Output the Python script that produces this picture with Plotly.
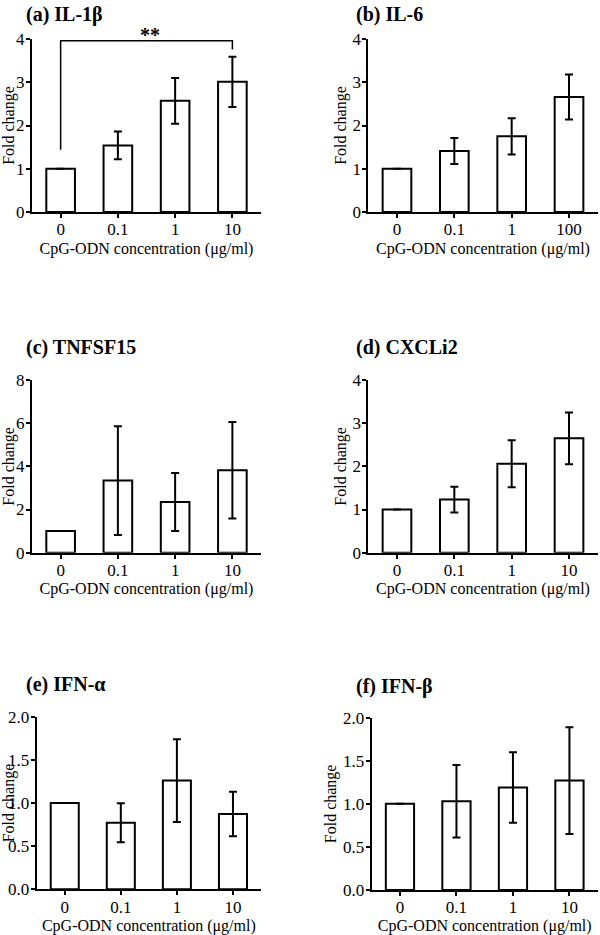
import plotly.graph_objects as go

categories = ["0", "0.1", "1", "10"]
categories_b = ["0", "0.1", "1", "100"]

il1b_vals = [1.0, 1.54, 2.57, 3.01]
il1b_errs = [0, 0.32, 0.53, 0.58]
il6_vals = [1.0, 1.41, 1.75, 2.66]
il6_errs = [0, 0.30, 0.42, 0.52]
tnfsf15_vals = [1.0, 3.34, 2.35, 3.82]
tnfsf15_errs = [0, 2.52, 1.34, 2.24]
cxcli2_vals = [1.0, 1.23, 2.06, 2.65]
cxcli2_errs = [0, 0.30, 0.545, 0.60]
ifna_vals = [1.0, 0.772, 1.26, 0.873]
ifna_errs = [0, 0.226, 0.48, 0.257]
ifnb_vals = [1.0, 1.03, 1.19, 1.27]
ifnb_errs = [0, 0.42, 0.41, 0.62]

titles = ["(a) IL-1β", "(b) IL-6", "(c) TNFSF15", "(d) CXCLi2", "(e) IFN-α", "(f) IFN-β"]
y_max = [4, 4, 8, 4, 2, 2]
y_dtick = [1, 1, 2, 1, 0.5, 0.5]

# significance bracket in panel (a): from category index to index, level, left/right drop ends
sig_from, sig_to = 0, 3
sig_level = 3.96
sig_left_end, sig_right_end = 1.44, 3.76
sig_label = "**"

panels = [
    (categories, il1b_vals, il1b_errs),
    (categories_b, il6_vals, il6_errs),
    (categories, tnfsf15_vals, tnfsf15_errs),
    (categories, cxcli2_vals, cxcli2_errs),
    (categories, ifna_vals, ifna_errs),
    (categories, ifnb_vals, ifnb_errs),
]

W, H = 600, 935
x_doms = [(32, 261), (368.3, 597.7), (32, 261), (368.3, 597.7), (36.7, 261), (371.7, 597.7)]
y_doms = [(39, 212), (39, 212), (380, 552.7), (380, 552.7), (716.7, 889.3), (717.7, 890)]
title_pos = [(24, 14), (354, 14), (24, 347), (354, 347), (24, 684), (354, 686)]

FONT = "Liberation Serif"

fig = go.Figure()
layout = dict(
    width=W, height=H, margin=dict(l=0, r=0, t=0, b=0),
    paper_bgcolor="white", plot_bgcolor="white", showlegend=False,
    font=dict(family=FONT, color="black", size=16),
    shapes=[], annotations=[],
)

for i, (cats, vals, errs) in enumerate(panels):
    n = "" if i == 0 else str(i + 1)
    fig.add_trace(go.Bar(
        x=cats, y=vals, width=0.5,
        marker=dict(color="white", line=dict(color="black", width=2)),
        error_y=dict(type="data", array=errs, color="black", thickness=2, width=4),
        xaxis="x" + n, yaxis="y" + n,
    ))
    x0, x1 = x_doms[i]
    y0, y1 = y_doms[i]
    layout["xaxis" + n] = dict(
        domain=[x0 / W, x1 / W], anchor="y" + n, type="category", automargin=False,
        range=[-0.5, 3.5], showline=True, linecolor="black", linewidth=2,
        ticks="outside", ticklen=4, tickwidth=2, tickcolor="black",
        showgrid=False, zeroline=False, tickfont=dict(size=17), ticklabelstandoff=-3,
        title=dict(text="CpG-ODN concentration (μg/ml)", font=dict(size=16), standoff=4),
    )
    layout["yaxis" + n] = dict(
        domain=[1 - y1 / H, 1 - y0 / H], anchor="x" + n, automargin=False,
        range=[0, y_max[i]], dtick=y_dtick[i], tick0=0,
        tickformat=".1f" if y_dtick[i] < 1 else "d",
        showline=True, linecolor="black", linewidth=2,
        ticks="outside", ticklen=4, tickwidth=2, tickcolor="black",
        showgrid=False, zeroline=False, tickfont=dict(size=17), ticklabelstandoff=-2,
        title=dict(text="Fold change", font=dict(size=16), standoff=2),
    )
    tx, ty = title_pos[i]
    layout["annotations"].append(dict(
        text="<b>" + titles[i] + "</b>", x=tx / W, y=1 - ty / H,
        xref="paper", yref="paper", xanchor="left", yanchor="middle",
        showarrow=False, font=dict(size=20, family=FONT),
    ))

# significance bracket
layout["shapes"].append(dict(
    type="path", xref="x", yref="y",
    path=f"M {sig_from},{sig_left_end} L {sig_from},{sig_level} L {sig_to},{sig_level} L {sig_to},{sig_right_end}",
    line=dict(color="black", width=1.5),
))
layout["annotations"].append(dict(
    text="<b>" + sig_label + "</b>", x=(sig_from + sig_to) / 2, y=sig_level,
    xref="x", yref="y", yanchor="bottom", showarrow=False, yshift=-7, xshift=3,
    font=dict(size=20, family=FONT),
))

fig.update_layout(**layout)
fig.write_html(
    "out.html",
    config={"displayModeBar": False},
    post_script="document.body.style.margin='0';document.body.style.overflow='hidden';",
)
